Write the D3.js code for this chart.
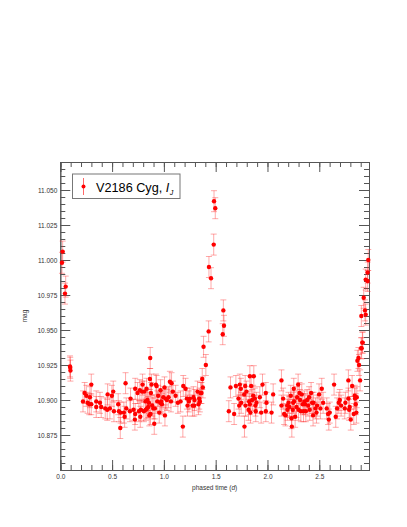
<!DOCTYPE html>
<html>
<head>
<meta charset="utf-8">
<script src="https://cdn.jsdelivr.net/npm/d3@7"></script>
<style>
  body { margin: 0; background: #fff; }
  svg text { font-family: "Liberation Sans", Arial, Helvetica, sans-serif; fill: #333; }
</style>
</head>
<body>
<div id="chart"></div>
<script>
// Data (phase in days, magnitude)
var phase = [
  0.016, 0.023, 0.045, 0.052, 0.094, 0.096, 0.098,
  0.219, 0.235, 0.251, 0.264, 0.280, 0.286, 0.299, 0.299, 0.347, 0.347, 0.383, 0.395, 0.434,
  0.453, 0.457, 0.479, 0.498, 0.511, 0.518, 0.559, 0.566, 0.579, 0.582, 0.614, 0.621, 0.630,
  0.637, 0.672, 0.678, 0.707, 0.720, 0.723, 0.723, 0.746, 0.759, 0.768, 0.772, 0.778, 0.788,
  0.794, 0.807, 0.810, 0.823, 0.826, 0.833, 0.836, 0.842, 0.849, 0.855, 0.859, 0.865, 0.868,
  0.871, 0.875, 0.881, 0.887, 0.897, 0.907, 0.913, 0.923, 0.929, 0.936, 0.945, 0.955, 0.965,
  0.968, 0.974, 0.981, 0.994, 1.006, 1.010, 1.016, 1.029, 1.045, 1.058, 1.068, 1.074, 1.087,
  1.113, 1.135, 1.161, 1.183, 1.187, 1.209, 1.222, 1.228, 1.241, 1.251, 1.277, 1.286, 1.293,
  1.296, 1.325, 1.334, 1.341, 1.347, 1.354, 1.363, 1.370, 1.376, 1.383, 1.405,
  1.432, 1.435, 1.455, 1.481, 1.484, 1.496, 1.568, 1.574, 1.580,
  1.627, 1.643, 1.678, 1.695, 1.720, 1.727, 1.733, 1.743, 1.746, 1.775, 1.778, 1.785, 1.788,
  1.797, 1.817, 1.823, 1.830, 1.830, 1.836, 1.842, 1.852, 1.862, 1.868, 1.878, 1.884, 1.887,
  1.894, 1.926, 1.939, 1.952, 1.984, 1.984, 1.990, 2.039, 2.055,
  2.135, 2.135, 2.151, 2.161, 2.174, 2.190, 2.193, 2.203, 2.212, 2.225, 2.232, 2.235, 2.244,
  2.248, 2.254, 2.257, 2.267, 2.280, 2.286, 2.296, 2.299, 2.309, 2.315, 2.322, 2.331, 2.341,
  2.348, 2.357, 2.363, 2.370, 2.383, 2.392, 2.402, 2.408, 2.421, 2.431, 2.440, 2.444, 2.463,
  2.473, 2.479, 2.498, 2.511, 2.524, 2.537, 2.572, 2.585, 2.592, 2.601, 2.643, 2.659, 2.672,
  2.688, 2.698, 2.711, 2.746, 2.752, 2.781, 2.781, 2.788, 2.794, 2.804, 2.817, 2.833, 2.842,
  2.845, 2.852, 2.858, 2.862, 2.868, 2.878, 2.884, 2.894, 2.904, 2.909, 2.916, 2.919, 2.929,
  2.941, 2.948, 2.948, 2.906, 2.967, 2.967, 2.973
];
var mag = [
  10.998, 11.006, 10.976, 10.981, 10.924, 10.923, 10.921,
  10.899, 10.905, 10.903, 10.898, 10.897, 10.902, 10.911, 10.897, 10.899, 10.895, 10.898, 10.895, 10.894,
  10.893, 10.904, 10.894, 10.903, 10.906, 10.892, 10.897, 10.892, 10.880, 10.891, 10.891, 10.888, 10.912,
  10.894, 10.892, 10.901, 10.893, 10.886, 10.908, 10.890, 10.905, 10.892, 10.907, 10.888, 10.893, 10.906,
  10.911, 10.892, 10.906, 10.899, 10.893, 10.908, 10.894, 10.900, 10.895, 10.898, 10.889, 10.915, 10.930,
  10.890, 10.905, 10.911, 10.896, 10.894, 10.883, 10.894, 10.911, 10.910, 10.899, 10.903, 10.891, 10.898,
  10.907, 10.899, 10.897, 10.902, 10.909, 10.889, 10.901, 10.900, 10.902, 10.913, 10.899, 10.912, 10.906,
  10.903, 10.898, 10.899, 10.881, 10.910, 10.908, 10.901, 10.896, 10.899, 10.901, 10.896, 10.902, 10.896,
  10.900, 10.906, 10.897, 10.901, 10.899, 10.905, 10.905, 10.915, 10.909, 10.938, 10.925,
  10.949, 10.995, 10.987, 11.011, 11.042, 11.037, 10.947, 10.964, 10.953,
  10.892, 10.909, 10.890, 10.910, 10.901, 10.896, 10.911, 10.908, 10.898, 10.904, 10.881, 10.910, 10.896,
  10.906, 10.893, 10.899, 10.917, 10.897, 10.891, 10.910, 10.900, 10.903, 10.917, 10.901, 10.896, 10.892,
  10.898, 10.902, 10.891, 10.911, 10.905, 10.892, 10.898, 10.891, 10.904,
  10.914, 10.896, 10.901, 10.890, 10.889, 10.896, 10.893, 10.898, 10.895, 10.903, 10.887, 10.881, 10.893,
  10.898, 10.908, 10.899, 10.888, 10.895, 10.902, 10.911, 10.893, 10.905, 10.900, 10.892, 10.904, 10.897,
  10.892, 10.899, 10.897, 10.892, 10.900, 10.896, 10.902, 10.893, 10.905, 10.898, 10.889, 10.898, 10.894,
  10.891, 10.896, 10.904, 10.894, 10.908, 10.898, 10.894, 10.890, 10.886, 10.891, 10.911, 10.888, 10.894,
  10.898, 10.900, 10.896, 10.894, 10.898, 10.914, 10.901, 10.893, 10.895, 10.886, 10.910, 10.890, 10.903,
  10.901, 10.897, 10.891, 10.902, 10.928, 10.930, 10.925, 10.914, 10.937, 10.937, 10.941, 10.941, 10.973,
  10.964, 10.961, 10.986, 10.960, 10.985, 10.991, 11.000
];
var errBar = 0.0075;

var xTicks = [0.0, 0.5, 1.0, 1.5, 2.0, 2.5];
var yTicks = [10.875, 10.900, 10.925, 10.950, 10.975, 11.000, 11.025, 11.050];

var width = 407, height = 527;
var m = { left: 60.3, right: 369, top: 162, bottom: 470 };

var x = d3.scaleLinear().domain([0, 2.98]).range([m.left, m.right]);
var y = d3.scaleLinear().domain([10.85, 11.07]).range([m.bottom, m.top]);

var svg = d3.select('#chart').append('svg')
  .attr('width', width)
  .attr('height', height);

var xMinor = d3.range(0, 2.98, 0.1);
var yMinor = d3.range(10.85, 11.07, 0.005);

function styleAxis(g) {
  g.select('.domain').attr('stroke', '#555');
  g.selectAll('.tick line').attr('stroke', '#555');
  g.selectAll('.tick text').style('font-size', '6.5px').style('fill', '#333');
}

// minor ticks first, majors on top
svg.append('g').attr('transform', 'translate(0,' + m.bottom + ')')
  .call(d3.axisBottom(x).tickValues(xMinor).tickSize(-5).tickFormat(''))
  .call(styleAxis);
svg.append('g').attr('transform', 'translate(0,' + m.bottom + ')')
  .call(d3.axisBottom(x).tickValues(xTicks).tickSize(-10).tickPadding(4).tickFormat(d3.format('.1f')))
  .call(styleAxis);
svg.append('g').attr('transform', 'translate(0,' + m.top + ')')
  .call(d3.axisTop(x).tickValues(xMinor).tickSize(-5).tickFormat(''))
  .call(styleAxis);
svg.append('g').attr('transform', 'translate(0,' + m.top + ')')
  .call(d3.axisTop(x).tickValues(xTicks).tickSize(-10).tickFormat(''))
  .call(styleAxis);

svg.append('g').attr('transform', 'translate(' + m.left + ',0)')
  .call(d3.axisLeft(y).tickValues(yMinor).tickSize(-5).tickFormat(''))
  .call(styleAxis);
svg.append('g').attr('transform', 'translate(' + m.left + ',0)')
  .call(d3.axisLeft(y).tickValues(yTicks).tickSize(-10).tickPadding(3).tickFormat(d3.format('.3f')))
  .call(styleAxis);
svg.append('g').attr('transform', 'translate(' + m.right + ',0)')
  .call(d3.axisRight(y).tickValues(yMinor).tickSize(-5).tickFormat(''))
  .call(styleAxis);
svg.append('g').attr('transform', 'translate(' + m.right + ',0)')
  .call(d3.axisRight(y).tickValues(yTicks).tickSize(-10).tickFormat(''))
  .call(styleAxis);

// axis titles
var xl = svg.append('text')
  .attr('x', (m.left + m.right) / 2)
  .attr('y', 490)
  .attr('text-anchor', 'middle')
  .style('font-size', '6.5px');
xl.append('tspan').text('phased time (');
xl.append('tspan').style('font-style', 'italic').text('d');
xl.append('tspan').text(')');

svg.append('text')
  .attr('transform', 'translate(27,' + y(10.96) + ') rotate(-90)')
  .attr('text-anchor', 'middle')
  .style('font-size', '6.5px')
  .text('mag');

var pts = phase.map(function(p, i) { return { p: p, m: mag[i] }; });

var plot = svg.append('g');

var eb = plot.selectAll('g.eb').data(pts).enter().append('g')
  .attr('stroke', 'rgba(255,40,40,0.4)')
  .attr('stroke-width', 1);
eb.append('line')
  .attr('x1', function(d) { return x(d.p); })
  .attr('x2', function(d) { return x(d.p); })
  .attr('y1', function(d) { return y(d.m - errBar); })
  .attr('y2', function(d) { return y(d.m + errBar); });
eb.append('line')
  .attr('x1', function(d) { return x(d.p) - 3; })
  .attr('x2', function(d) { return x(d.p) + 3; })
  .attr('y1', function(d) { return y(d.m - errBar); })
  .attr('y2', function(d) { return y(d.m - errBar); });
eb.append('line')
  .attr('x1', function(d) { return x(d.p) - 3; })
  .attr('x2', function(d) { return x(d.p) + 3; })
  .attr('y1', function(d) { return y(d.m + errBar); })
  .attr('y2', function(d) { return y(d.m + errBar); });

plot.selectAll('circle').data(pts).enter().append('circle')
  .attr('cx', function(d) { return x(d.p); })
  .attr('cy', function(d) { return y(d.m); })
  .attr('r', 2.2)
  .attr('fill', '#f00');

// legend
var lg = svg.append('g');
lg.append('rect')
  .attr('x', 72.5).attr('y', 174)
  .attr('width', 107.5).attr('height', 24.5)
  .attr('fill', '#fff')
  .attr('stroke', '#777')
  .attr('stroke-width', 1);
lg.append('line')
  .attr('x1', 83.5).attr('x2', 83.5)
  .attr('y1', 178).attr('y2', 195)
  .attr('stroke', 'rgba(255,40,40,0.7)');
lg.append('circle')
  .attr('cx', 83.5).attr('cy', 186.5)
  .attr('r', 2)
  .attr('fill', '#f00');
var lt = lg.append('text')
  .attr('x', 96).attr('y', 191.5)
  .style('font-size', '12.7px')
  .style('fill', '#000');
lt.append('tspan').text('V2186 Cyg, ');
lt.append('tspan').style('font-style', 'italic').text('I');
lt.append('tspan').attr('dy', 3).attr('dx', 0.5).style('font-size', '7px').style('font-style', 'italic').text('J');
</script>
</body>
</html>
